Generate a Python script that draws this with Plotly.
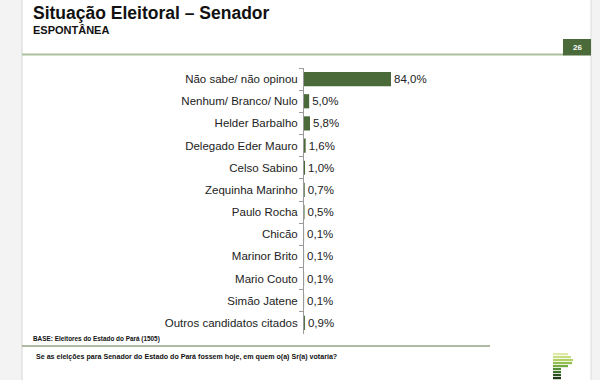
import plotly.graph_objects as go

categories = [
    "Não sabe/ não opinou",
    "Nenhum/ Branco/ Nulo",
    "Helder Barbalho",
    "Delegado Eder Mauro",
    "Celso Sabino",
    "Zequinha Marinho",
    "Paulo Rocha",
    "Chicão",
    "Marinor Brito",
    "Mario Couto",
    "Simão Jatene",
    "Outros candidatos citados",
]
values = [84.0, 5.0, 5.8, 1.6, 1.0, 0.7, 0.5, 0.1, 0.1, 0.1, 0.1, 0.9]
value_labels = [f"{v:.1f}".replace(".", ",") + "%" for v in values]

title_text = "Situação Eleitoral – Senador"
subtitle_text = "ESPONTÂNEA"
page_number = "26"
base_text = "BASE: Eleitores do Estado do Pará (1505)"
question_text = "Se as eleições para Senador do Estado do Pará fossem hoje, em quem o(a) Sr(a) votaria?"

W, H = 600, 380
FONT = "Arial, Liberation Sans, sans-serif"


def px(x):
    return x / W


def py(y):
    return 1 - y / H


fig = go.Figure(
    go.Bar(
        x=values,
        y=categories,
        orientation="h",
        marker=dict(color="#4a6a3a", line=dict(width=0)),
        width=0.64,
        text=value_labels,
        textposition="outside",
        textfont=dict(family=FONT, size=11.5, color="#222222"),
        cliponaxis=False,
        hoverinfo="skip",
    )
)

fig.update_layout(
    width=W,
    height=H,
    margin=dict(l=0, r=0, t=0, b=0),
    paper_bgcolor="white",
    plot_bgcolor="rgba(0,0,0,0)",
    showlegend=False,
    font=dict(family=FONT, color="#222222"),
    xaxis=dict(
        domain=[px(304), px(480)],
        range=[0, 84 * 176 / 87],
        visible=False,
        fixedrange=True,
    ),
    yaxis=dict(
        domain=[py(334), py(68)],
        type="category",
        categoryorder="array",
        categoryarray=categories,
        autorange="reversed",
        showline=True,
        linecolor="#9a9a9a",
        linewidth=1,
        ticks="outside",
        tickson="boundaries",
        ticklen=4,
        tickcolor="#9a9a9a",
        ticklabelstandoff=3,
        showgrid=False,
        zeroline=False,
        tickfont=dict(family=FONT, size=11.5, color="#222222"),
        fixedrange=True,
    ),
)

shapes = [
    # left page gutter
    dict(type="rect", xref="paper", yref="paper", x0=0, x1=px(22), y0=0, y1=1,
         fillcolor="#f3f3f3", line=dict(width=0), layer="below"),
    dict(type="line", xref="paper", yref="paper", x0=px(22), x1=px(22), y0=0, y1=1,
         line=dict(color="#d6d6d6", width=1)),
    # right page gutter
    dict(type="rect", xref="paper", yref="paper", x0=px(591), x1=1, y0=0, y1=1,
         fillcolor="#f3f3f3", line=dict(width=0), layer="below"),
    dict(type="line", xref="paper", yref="paper", x0=px(591), x1=px(591), y0=0, y1=1,
         line=dict(color="#dcdcdc", width=1)),
    # green rule under title
    dict(type="line", xref="paper", yref="paper", x0=px(22), x1=px(564), y0=py(54.5), y1=py(54.5),
         line=dict(color="#a9c09a", width=2)),
    # page number box
    dict(type="rect", xref="paper", yref="paper", x0=px(563), x1=px(591), y0=py(55.5), y1=py(39),
         fillcolor="#4a6a3a", line=dict(width=0)),
    # rule under base text
    dict(type="line", xref="paper", yref="paper", x0=px(22), x1=px(490), y0=py(346), y1=py(346),
         line=dict(color="#5b7a48", width=1)),
]

# logo stripes (decorative)
logo = [
    (353, 568, "#dfe9a6"),
    (356, 571, "#c9de84"),
    (359, 573, "#b3d066"),
    (362, 572, "#93bf52"),
    (365, 568, "#76a942"),
    (368, 561, "#538c34"),
    (371, 561, "#3e6f2b"),
    (374, 561, "#2d5021"),
    (377, 561, "#1f3818"),
]
for y0, x1, c in logo:
    shapes.append(dict(type="rect", xref="paper", yref="paper", x0=px(553), x1=px(x1),
                       y0=py(y0 + 2.2), y1=py(y0), fillcolor=c, line=dict(width=0)))

fig.update_layout(shapes=shapes)

annotations = [
    dict(text=f"<b>{title_text}</b>", x=px(31), y=py(13), xanchor="left", yanchor="middle",
         font=dict(family=FONT, size=17.5, color="#111111")),
    dict(text=f"<b>{subtitle_text}</b>", x=px(31), y=py(30), xanchor="left", yanchor="middle",
         font=dict(family=FONT, size=11, color="#111111")),
    dict(text=f"<b>{page_number}</b>", x=px(577), y=py(47), xanchor="center", yanchor="middle",
         font=dict(family=FONT, size=8, color="white")),
    dict(text=f"<b>{base_text}</b>", x=px(31), y=py(339), xanchor="left", yanchor="middle",
         font=dict(family=FONT, size=6.4, color="#111111")),
    dict(text=f"<b>{question_text}</b>", x=px(34), y=py(357), xanchor="left", yanchor="middle",
         font=dict(family=FONT, size=7.1, color="#111111")),
]
for a in annotations:
    a.update(xref="paper", yref="paper", showarrow=False)
fig.update_layout(annotations=annotations)

fig.write_html(
    "out.html",
    config={"displayModeBar": False, "staticPlot": True},
    post_script="document.body.style.margin='0';document.body.style.padding='0';",
)
